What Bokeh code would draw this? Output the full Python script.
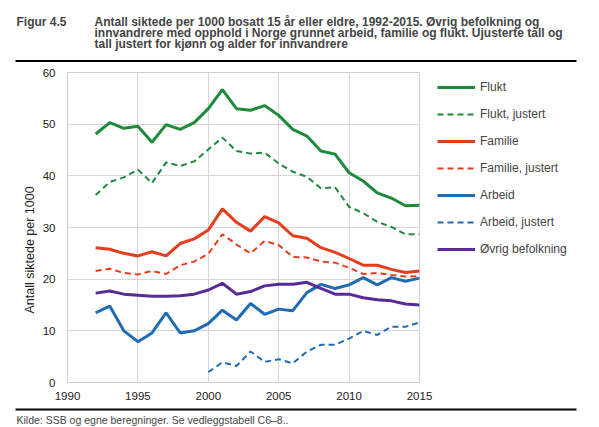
from bokeh.models import Legend, LegendItem, Label, FixedTicker, Title
from bokeh.plotting import figure
from bokeh.embed import file_html
from bokeh.resources import INLINE

# Data
years = list(range(1992, 2016))
years_arbeid_j = list(range(2000, 2016))

flukt = [48.1, 50.3, 49.2, 49.6, 46.5, 49.9, 49.0, 50.3, 53.0, 56.7, 53.0, 52.7,
         53.6, 51.7, 49.0, 47.7, 44.8, 44.2, 40.6, 39.0, 36.7, 35.7, 34.2, 34.3]
flukt_j = [36.3, 38.8, 39.7, 41.2, 38.6, 42.6, 41.9, 42.8, 45.1, 47.4, 44.8, 44.3,
           44.5, 42.4, 40.8, 39.8, 37.6, 37.8, 34.0, 32.8, 31.1, 30.1, 28.7, 28.7]
familie = [26.1, 25.8, 25.0, 24.5, 25.3, 24.5, 26.9, 27.8, 29.5, 33.6, 31.0, 29.3,
           32.1, 30.9, 28.4, 27.9, 26.1, 25.2, 24.0, 22.7, 22.7, 21.9, 21.3, 21.6]
familie_j = [21.6, 22.0, 21.2, 20.9, 21.6, 21.0, 22.7, 23.4, 24.9, 28.7, 26.7, 25.0,
             27.4, 26.6, 24.3, 24.2, 23.4, 23.2, 22.2, 21.0, 21.2, 20.8, 20.5, 20.6]
arbeid = [13.5, 14.8, 10.0, 7.9, 9.6, 13.5, 9.6, 10.0, 11.4, 14.0, 12.1, 15.3,
          13.2, 14.2, 13.9, 17.4, 19.0, 18.2, 18.9, 20.3, 18.9, 20.3, 19.6, 20.2]
arbeid_j = [2.0, 3.9, 3.2, 6.0, 4.0, 4.5, 3.7, 6.0, 7.3, 7.3, 8.5, 10.0, 9.2, 10.8, 10.8, 11.6]
ovrig = [17.3, 17.7, 17.1, 16.9, 16.7, 16.7, 16.8, 17.1, 17.9, 19.2, 17.1, 17.6,
         18.7, 19.0, 19.0, 19.4, 18.2, 17.1, 17.1, 16.4, 16.0, 15.8, 15.2, 15.0]

x_ticks = [1990, 1995, 2000, 2005, 2010, 2015]
y_ticks = [0, 10, 20, 30, 40, 50, 60]

fig_label = "Figur 4.5"
title_lines = [
    "Antall siktede per 1000 bosatt 15 år eller eldre, 1992-2015. Øvrig befolkning og",
    "innvandrere med opphold i Norge grunnet arbeid, familie og flukt. Ujusterte tall og",
    "tall justert for kjønn og alder for innvandrere",
]
y_title = "Antall siktede per 1000"
source_note = "Kilde: SSB og egne beregninger. Se vedleggstabell C6–8.."

GREEN = "#1e8a3c"
RED = "#e63d1f"
BLUE = "#1f6cb3"
PURPLE = "#5a2a97"
FONT = "Liberation Sans"
W = 599


def blank_panel(height):
    # a plain canvas in pixel units, used for heading and footer
    f = figure(frame_width=W, frame_height=height, x_range=(0, W), y_range=(height, 0),
               min_border=0, x_axis_type=None, y_axis_type=None,
               output_backend="svg", toolbar_location=None, tools="")
    f.grid.visible = False
    f.outline_line_color = None
    f.background_fill_color = "white"
    f.border_fill_color = "white"
    return f


# heading
head = blank_panel(62)
head.add_layout(Label(x=16, y=21, text=fig_label, text_baseline="middle",
                      text_font=FONT, text_font_size="12px", text_font_style="bold"))
for i, line in enumerate(title_lines):
    head.add_layout(Label(x=94, y=21 + 11 * i, text=line, text_baseline="middle",
                          text_font=FONT, text_font_size="12px", text_font_style="bold"))
head.segment(x0=[15], y0=[60.5], x1=[576], y1=[60.5], line_color="black", line_width=2)

# main chart
p = figure(frame_width=352, frame_height=310,
           min_border_left=67, min_border_right=180,
           min_border_top=10, min_border_bottom=24,
           x_range=(1990, 2015), y_range=(0, 60),
           output_backend="svg", toolbar_location=None, tools="")
p.background_fill_color = "white"
p.border_fill_color = "white"
p.outline_line_color = "#cfcfcf"

for ax in (p.xaxis, p.yaxis):
    ax.axis_line_color = None
    ax.major_tick_line_color = None
    ax.minor_tick_line_color = None
    ax.major_tick_out = 0
    ax.major_tick_in = 0
    ax.minor_tick_out = 0
    ax.minor_tick_in = 0
    ax.major_label_text_font = FONT
    ax.major_label_text_font_size = "11.5px"
    ax.major_label_text_color = "#222222"
p.xaxis.ticker = FixedTicker(ticks=x_ticks)
p.yaxis.ticker = FixedTicker(ticks=y_ticks)
p.xaxis.major_label_standoff = 9
p.yaxis.major_label_standoff = 12

# y title sits a little below the middle of the axis, as in the original
p.add_layout(Title(text=y_title, align="left", offset=69, standoff=6,
                   text_font=FONT, text_font_size="12.5px", text_font_style="normal",
                   text_color="#222222"), "left")

p.grid.grid_line_color = "#d6d6d6"
p.grid.grid_line_width = 1

r_flukt = p.line(years, flukt, line_color=GREEN, line_width=3)
r_flukt_j = p.line(years, flukt_j, line_color=GREEN, line_width=2, line_dash="6 4")
r_fam = p.line(years, familie, line_color=RED, line_width=3)
r_fam_j = p.line(years, familie_j, line_color=RED, line_width=2, line_dash="6 4")
r_arb = p.line(years, arbeid, line_color=BLUE, line_width=3)
r_arb_j = p.line(years_arbeid_j, arbeid_j, line_color=BLUE, line_width=2, line_dash="6 4")
r_ovr = p.line(years, ovrig, line_color=PURPLE, line_width=3)

legend = Legend(items=[
    LegendItem(label="Flukt", renderers=[r_flukt]),
    LegendItem(label="Flukt, justert", renderers=[r_flukt_j]),
    LegendItem(label="Familie", renderers=[r_fam]),
    LegendItem(label="Familie, justert", renderers=[r_fam_j]),
    LegendItem(label="Arbeid", renderers=[r_arb]),
    LegendItem(label="Arbeid, justert", renderers=[r_arb_j]),
    LegendItem(label="Øvrig befolkning", renderers=[r_ovr]),
], location=(18, 123), padding=0, margin=0, spacing=7,
   glyph_width=38, glyph_height=20, label_standoff=5,
   label_text_font=FONT, label_text_font_size="12px",
   border_line_color=None, background_fill_alpha=0)
p.add_layout(legend, "right")

# footer
foot = blank_panel(21)
foot.segment(x0=[15], y0=[3], x1=[576], y1=[3], line_color="black", line_width=2)
foot.add_layout(Label(x=16, y=13, text=source_note, text_baseline="middle",
                      text_font=FONT, text_font_size="10.5px"))

open("out.html", "w").write(file_html([head, p, foot], INLINE))
